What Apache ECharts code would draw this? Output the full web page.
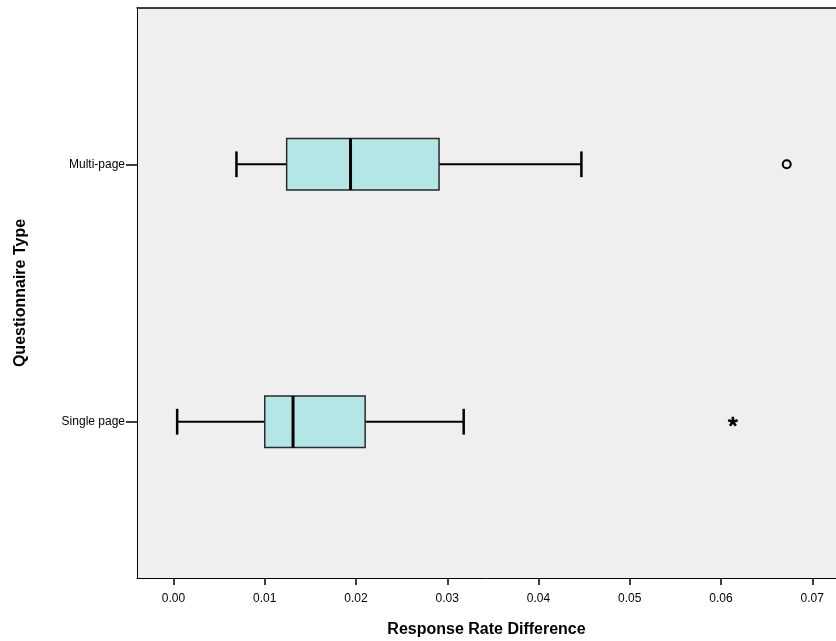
<!DOCTYPE html>
<html>
<head>
<meta charset="utf-8">
<script src="https://cdn.jsdelivr.net/npm/echarts@6/dist/echarts.min.js"></script>
<style>
  html, body { margin: 0; padding: 0; background: #fff; }
  #chart { width: 836px; height: 641px; }
</style>
</head>
<body>
<div id="chart"></div>
<script>
// questionnaire types, bottom to top
const categories = ['Single page', 'Multi-page'];
// box plot stats per type
const whiskerLow = [0.0004, 0.0069];
const q1 = [0.0100, 0.0124];
const median = [0.0131, 0.0194];
const q3 = [0.0210, 0.0291];
const whiskerHigh = [0.0318, 0.0447];
// outliers: [value, type index]
const outliers = [[0.0672, 1]];
const extremes = [[0.0613, 0]];
const xTicks = [0, 0.01, 0.02, 0.03, 0.04, 0.05, 0.06, 0.07];

const boxData = categories.map(function (c, i) {
  return [i, whiskerLow[i], q1[i], median[i], q3[i], whiskerHigh[i]];
});

const font = 'Arial, "Liberation Sans", sans-serif';

function renderBox(params, api) {
  const y = api.value(0);
  const pLo = api.coord([api.value(1), y]);
  const pQ1 = api.coord([api.value(2), y]);
  const pMed = api.coord([api.value(3), y]);
  const pQ3 = api.coord([api.value(4), y]);
  const pHi = api.coord([api.value(5), y]);
  const boxH = api.size([0, 0.2])[1];
  const capH = api.size([0, 0.1])[1];
  const line = { stroke: '#000', lineWidth: 2 };
  return {
    type: 'group',
    children: [
      { type: 'line', shape: { x1: pLo[0], y1: pLo[1], x2: pQ1[0], y2: pQ1[1] }, style: line },
      { type: 'line', shape: { x1: pQ3[0], y1: pQ3[1], x2: pHi[0], y2: pHi[1] }, style: line },
      { type: 'line', shape: { x1: pLo[0], y1: pLo[1] - capH / 2, x2: pLo[0], y2: pLo[1] + capH / 2 }, style: { stroke: '#000', lineWidth: 2.5 } },
      { type: 'line', shape: { x1: pHi[0], y1: pHi[1] - capH / 2, x2: pHi[0], y2: pHi[1] + capH / 2 }, style: { stroke: '#000', lineWidth: 2.5 } },
      { type: 'rect', shape: { x: pQ1[0], y: pQ1[1] - boxH / 2, width: pQ3[0] - pQ1[0], height: boxH },
        style: { fill: '#b4e6e6', stroke: '#2a2a2a', lineWidth: 1.5 } },
      { type: 'line', shape: { x1: pMed[0], y1: pMed[1] - boxH / 2, x2: pMed[0], y2: pMed[1] + boxH / 2 }, style: { stroke: '#000', lineWidth: 3 } }
    ]
  };
}

// five-armed asterisk for extreme values
function renderStar(params, api) {
  const c = api.coord([api.value(0), api.value(1)]);
  const r = 5;
  const arms = [];
  for (let k = 0; k < 5; k++) {
    const a = -Math.PI / 2 + k * 2 * Math.PI / 5;
    arms.push({
      type: 'line',
      shape: { x1: c[0], y1: c[1], x2: c[0] + r * Math.cos(a), y2: c[1] + r * Math.sin(a) },
      style: { stroke: '#000', lineWidth: 2.6 }
    });
  }
  return { type: 'group', children: arms };
}

const chart = echarts.init(document.getElementById('chart'));
const option = {
  animation: false,
  backgroundColor: '#ffffff',
  grid: {
    left: 137, right: 0, top: 8, bottom: 63,
    outerBoundsMode: 'none',
    containLabel: false,
    show: true, backgroundColor: '#efefef', borderWidth: 0
  },
  xAxis: [{
    type: 'value',
    min: -0.004,
    max: 0.0726,
    name: 'Response Rate Difference',
    nameLocation: 'middle',
    nameGap: 44,
    nameTextStyle: { fontFamily: font, fontSize: 16, fontWeight: 'bold', color: '#000' },
    axisLine: { show: true, onZero: false, lineStyle: { color: '#000', width: 1 } },
    axisTick: { show: true, customValues: xTicks, length: 7, lineStyle: { color: '#000', width: 1.5 } },
    axisLabel: {
      customValues: xTicks, margin: 15,
      fontFamily: font, fontSize: 12, color: '#000',
      formatter: function (v) { return v.toFixed(2); }
    },
    splitLine: { show: false }
  }, {
    type: 'value',
    position: 'top',
    min: -0.004,
    max: 0.0726,
    axisLine: { show: true, onZero: false, lineStyle: { color: '#000', width: 1.5 } },
    axisTick: { show: false },
    axisLabel: { show: false },
    splitLine: { show: false }
  }],
  yAxis: {
    type: 'value',
    min: -0.607,
    max: 1.607,
    name: 'Questionnaire Type',
    nameLocation: 'middle',
    nameGap: 108,
    nameTextStyle: { fontFamily: font, fontSize: 16, fontWeight: 'bold', color: '#000' },
    axisLine: { show: true, onZero: false, lineStyle: { color: '#000', width: 1 } },
    axisTick: { show: true, customValues: [0, 1], length: 11, lineStyle: { color: '#000', width: 1.5 } },
    axisLabel: {
      customValues: [0, 1], margin: 12,
      fontFamily: font, fontSize: 12, color: '#000',
      formatter: function (v) { return categories[Math.round(v)]; }
    },
    splitLine: { show: false }
  },
  series: [
    {
      type: 'custom',
      renderItem: renderBox,
      encode: { x: [1, 2, 3, 4, 5], y: 0 },
      data: boxData
    },
    {
      type: 'scatter',
      symbol: 'circle',
      symbolSize: 8,
      itemStyle: { color: 'rgba(0,0,0,0)', borderColor: '#000', borderWidth: 2, opacity: 1 },
      data: outliers
    },
    {
      type: 'custom',
      renderItem: renderStar,
      data: extremes
    }
  ]
};
chart.setOption(option);
</script>
</body>
</html>
